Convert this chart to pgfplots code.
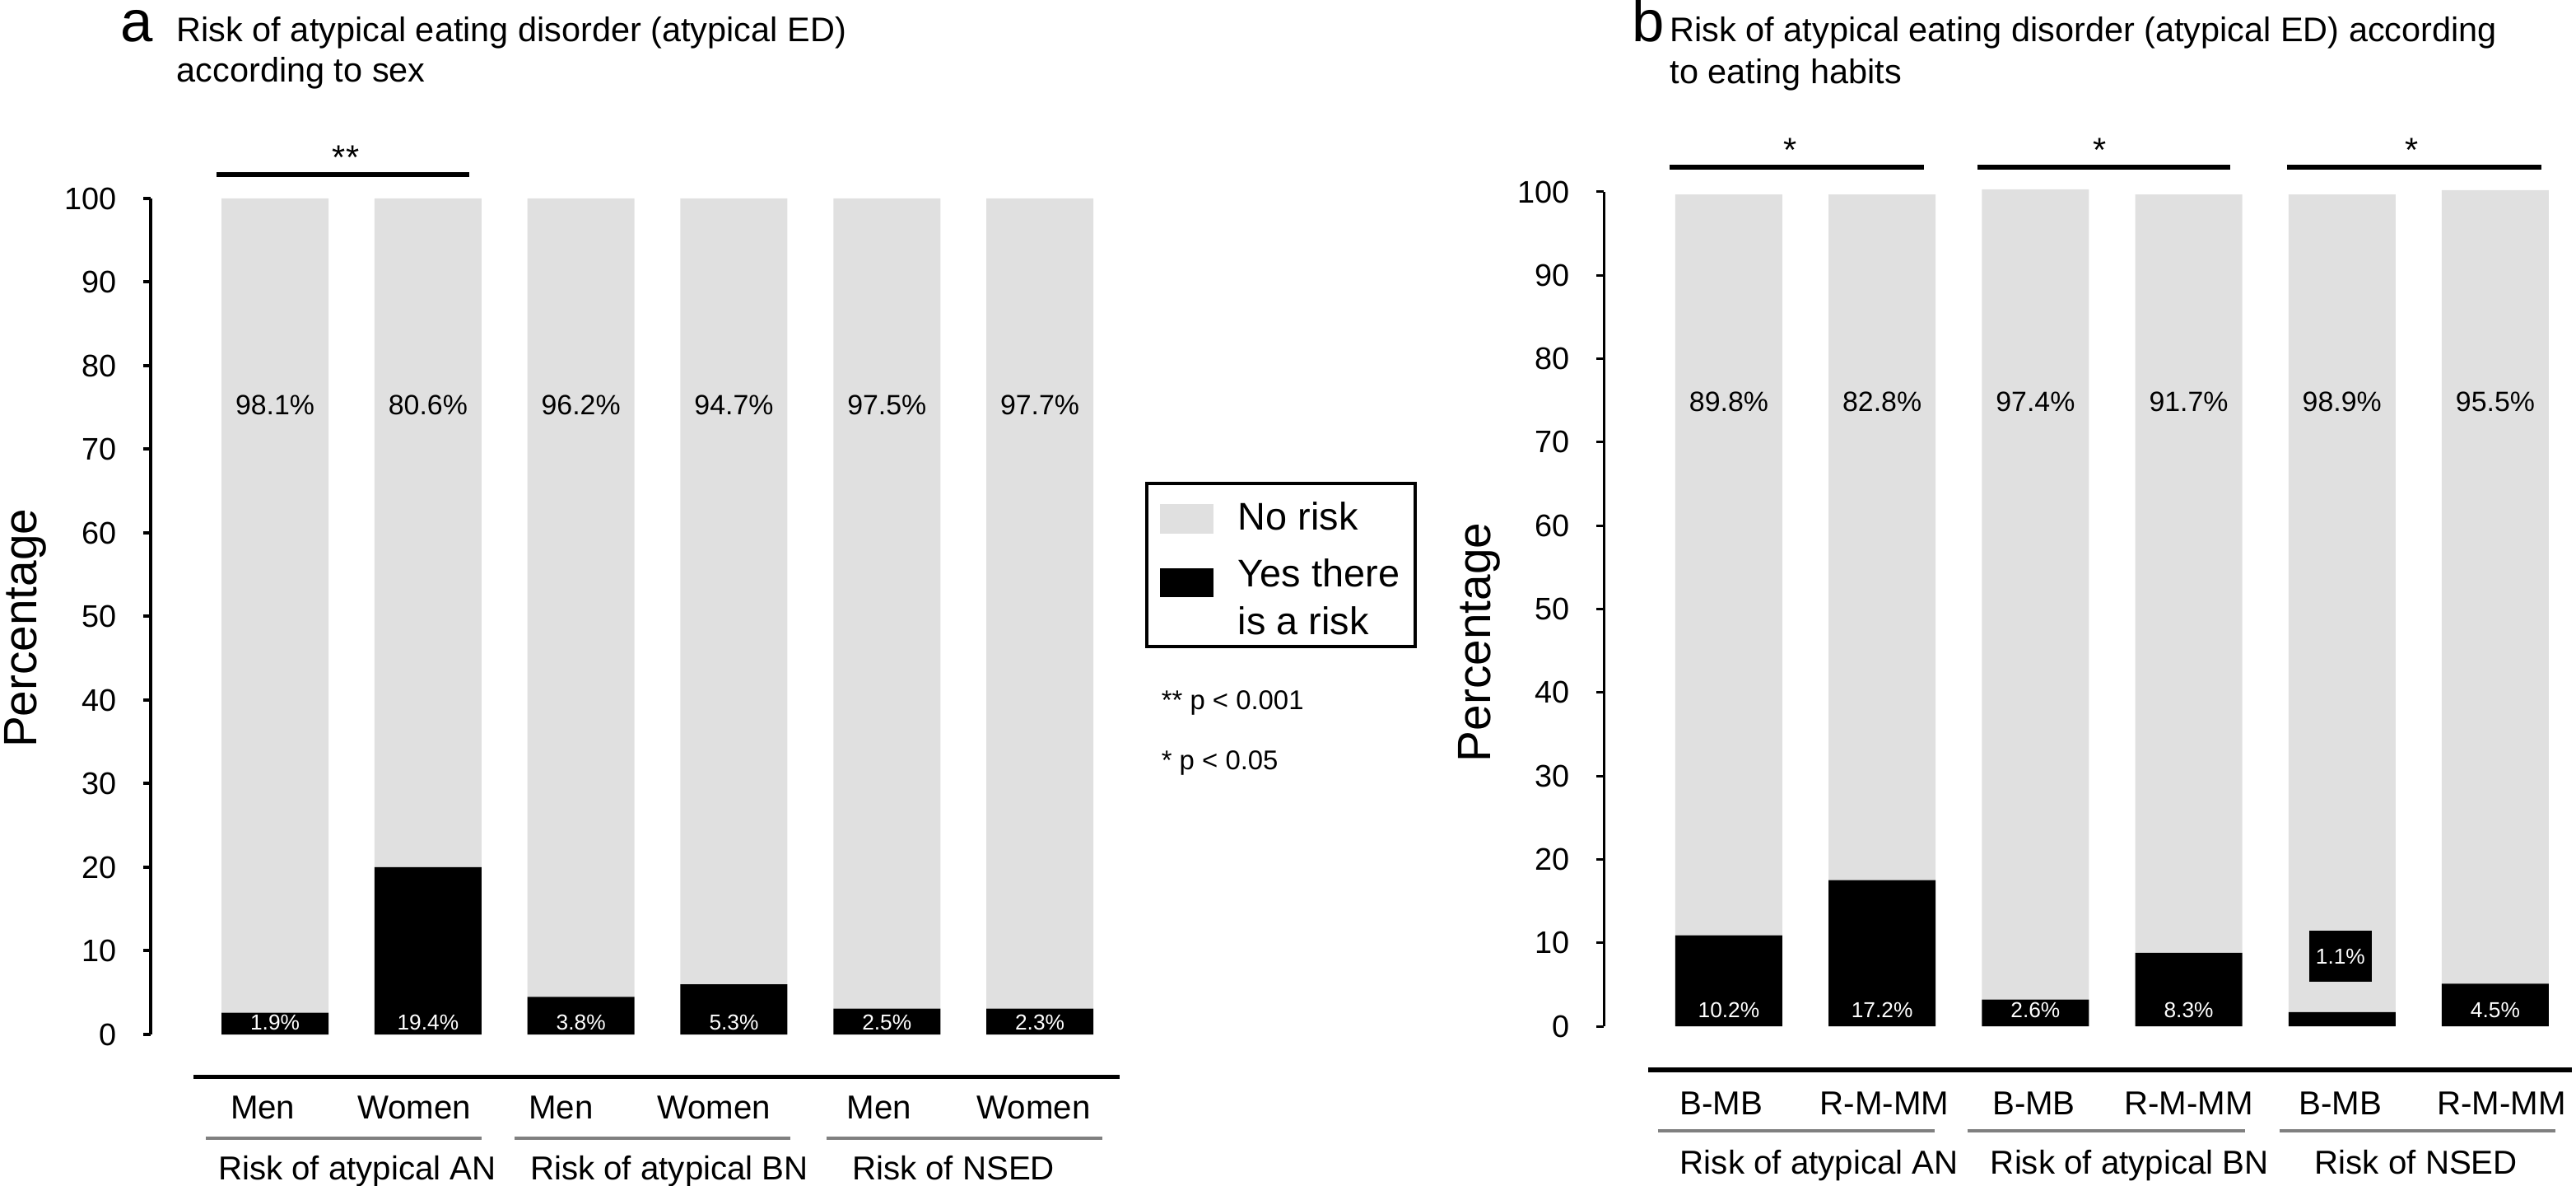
\documentclass[border=0pt]{standalone}
\usepackage{fontspec}
\setmainfont{Liberation Sans}
\usepackage{pgfplots}
\pgfplotsset{compat=1.18}

\definecolor{barGray}{RGB}{224,224,224}
\definecolor{ruleGray}{RGB}{128,128,128}

\tikzset{
  glab/.style={font=\fontsize{8.5}{10}\selectfont, anchor=base, inner sep=0pt},
  wlab/.style={font=\fontsize{6.6}{8}\selectfont, anchor=base, inner sep=0pt, text=white},
  cat/.style={font=\fontsize{10.1}{12}\selectfont, anchor=base, inner sep=0pt},
  ttl/.style={font=\fontsize{10.4}{12.5}\selectfont, anchor=base west, inner sep=0pt},
  panel/.style={font=\fontsize{17.75}{21}\selectfont, anchor=base west, inner sep=0pt},
  star/.style={font=\fontsize{10.4}{12}\selectfont, anchor=base, inner sep=0pt},
  ylab/.style={font=\fontsize{14.25}{17}\selectfont, rotate=90, anchor=center, inner sep=0pt},
  leg/.style={font=\fontsize{11.75}{14}\selectfont, anchor=base west, inner sep=0pt},
  pval/.style={font=\fontsize{8.25}{10}\selectfont, anchor=base west, inner sep=0pt},
}

\pgfplotsset{
  % same frame for the bar axis and for the overlay that carries the text
  panelA/.style={anchor=south west, at={(45.75bp,46bp)}, x=46.45bp, y=2.5375bp,
    xmin=-0.813, xmax=5.6, ymin=0, ymax=100, enlargelimits=false, clip=false},
  panelB/.style={anchor=south west, at={(487bp,48.5bp)}, x=46.55bp, y=2.5325bp,
    xmin=-0.816, xmax=5.6, ymin=0, ymax=100, enlargelimits=false, clip=false},
  riskaxis/.style={
    axis x line=none, axis y line*=left,
    ybar stacked, bar width=32.5bp,
    ytick={0,10,...,100}, xtick=\empty,
    tick align=outside, major tick length=2.25bp,
    yticklabel style={font=\fontsize{9.5}{11}\selectfont, inner sep=0pt, xshift=-8bp},
    /pgf/number format/assume math mode=true,
  },
  overlay/.style={hide axis},
}

\begin{document}
\begin{tikzpicture}
\useasboundingbox (0,0) rectangle (782.25bp,360bp);

% ---------- panel a: by sex ----------
\begin{axis}[panelA, riskaxis,
    y axis line style={line width=1bp},
    ytick style={line width=1bp, black}]
% at risk (black), then no risk (gray) on top
\addplot[fill=black, draw=none] coordinates {
    (0,2.6) (1,20) (2,4.5) (3,6.0) (4,3.1) (5,3.1)};
\addplot[fill=barGray, draw=none] coordinates {
    (0,97.4) (1,80) (2,95.5) (3,94) (4,96.9) (5,96.9)};
\end{axis}

\begin{axis}[panelA, overlay]
\node[glab] at (axis cs:0,74.1) {98.1\%};
\node[glab] at (axis cs:1,74.1) {80.6\%};
\node[glab] at (axis cs:2,74.1) {96.2\%};
\node[glab] at (axis cs:3,74.1) {94.7\%};
\node[glab] at (axis cs:4,74.1) {97.5\%};
\node[glab] at (axis cs:5,74.1) {97.7\%};

\node[wlab] at (axis cs:0,0.5) {1.9\%};
\node[wlab] at (axis cs:1,0.5) {19.4\%};
\node[wlab] at (axis cs:2,0.5) {3.8\%};
\node[wlab] at (axis cs:3,0.5) {5.3\%};
\node[wlab] at (axis cs:4,0.5) {2.5\%};
\node[wlab] at (axis cs:5,0.5) {2.3\%};

% title
\node[panel] at (axis cs:-1.0145,118.8) {a};
\node[ttl] at (axis cs:-0.646,118.8) {Risk of atypical eating disorder (atypical ED)};
\node[ttl] at (axis cs:-0.646,113.9) {according to sex};

% significance
\draw[line width=1.5bp] (axis cs:-0.382,102.86) -- (axis cs:1.270,102.86);
\node[star] at (axis cs:0.463,103.45) {**};

\node[ylab] at (axis cs:-1.631,48.6) {Percentage};

% category labels
\draw[line width=1.25bp] (axis cs:-0.533,-5.12) -- (axis cs:5.52,-5.12);
\node[cat] at (axis cs:-0.08,-10.05) {Men};
\node[cat] at (axis cs:0.91,-10.05) {Women};
\node[cat] at (axis cs:1.87,-10.05) {Men};
\node[cat] at (axis cs:2.87,-10.05) {Women};
\node[cat] at (axis cs:3.95,-10.05) {Men};
\node[cat] at (axis cs:4.96,-10.05) {Women};
\draw[ruleGray, line width=1bp] (axis cs:-0.452,-12.41) -- (axis cs:1.351,-12.41);
\draw[ruleGray, line width=1bp] (axis cs:1.566,-12.41) -- (axis cs:3.369,-12.41);
\draw[ruleGray, line width=1bp] (axis cs:3.606,-12.41) -- (axis cs:5.409,-12.41);
\node[cat] at (axis cs:0.538,-17.34) {Risk of atypical AN};
\node[cat] at (axis cs:2.578,-17.34) {Risk of atypical BN};
\node[cat] at (axis cs:4.435,-17.34) {Risk of NSED};

% legend
\draw[line width=1bp] (axis cs:5.700,65.91) rectangle (axis cs:7.454,46.40);
\fill[barGray] (axis cs:5.786,63.45) rectangle (axis cs:6.136,59.90);
\fill[black] (axis cs:5.786,55.76) rectangle (axis cs:6.136,52.32);
\node[leg] at (axis cs:6.292,60.39) {No risk};
\node[leg] at (axis cs:6.292,53.50) {Yes there};
\node[leg] at (axis cs:6.292,47.88) {is a risk};

\node[pval] at (axis cs:5.791,38.82) {** p < 0.001};
\node[pval] at (axis cs:5.791,31.63) {* p < 0.05};
\end{axis}

% ---------- panel b: by eating habits ----------
\begin{axis}[panelB, riskaxis,
    y axis line style={line width=0.75bp},
    ytick style={line width=0.75bp, black}]
\addplot[fill=black, draw=none] coordinates {
    (0,10.9) (1,17.5) (2,3.2) (3,8.8) (4,1.7) (5,5.1)};
\addplot[fill=barGray, draw=none] coordinates {
    (0,88.8) (1,82.2) (2,97.1) (3,90.9) (4,98.0) (5,95.1)};
\end{axis}

\begin{axis}[panelB, overlay]
\node[glab] at (axis cs:0,73.7) {89.8\%};
\node[glab] at (axis cs:1,73.7) {82.8\%};
\node[glab] at (axis cs:2,73.7) {97.4\%};
\node[glab] at (axis cs:3,73.7) {91.7\%};
\node[glab] at (axis cs:4,73.7) {98.9\%};
\node[glab] at (axis cs:5,73.7) {95.5\%};

\node[wlab] at (axis cs:0,1.0) {10.2\%};
\node[wlab] at (axis cs:1,1.0) {17.2\%};
\node[wlab] at (axis cs:2,1.0) {2.6\%};
\node[wlab] at (axis cs:3,1.0) {8.3\%};
\node[wlab, fill=black, anchor=center, minimum width=19bp, minimum height=15.5bp] at (axis cs:3.99,8.39) {1.1\%};
\node[wlab] at (axis cs:5,1.0) {4.5\%};

\node[panel] at (axis cs:-0.634,118.0) {b};
\node[ttl] at (axis cs:-0.387,118.0) {Risk of atypical eating disorder (atypical ED) according};
\node[ttl] at (axis cs:-0.387,113.0) {to eating habits};

\draw[line width=1.5bp] (axis cs:-0.387,102.96) -- (axis cs:1.273,102.96);
\draw[line width=1.5bp] (axis cs:1.622,102.96) -- (axis cs:3.271,102.96);
\draw[line width=1.5bp] (axis cs:3.641,102.96) -- (axis cs:5.300,102.96);
\node[star] at (axis cs:0.403,103.65) {*};
\node[star] at (axis cs:2.422,103.65) {*};
\node[star] at (axis cs:4.457,103.65) {*};

\node[ylab] at (axis cs:-1.627,46.0) {Percentage};

\draw[line width=1.5bp] (axis cs:-0.526,-5.23) -- (axis cs:5.50,-5.23);
\node[cat] at (axis cs:-0.05,-10.66) {B-MB};
\node[cat] at (axis cs:1.016,-10.66) {R-M-MM};
\node[cat] at (axis cs:1.99,-10.66) {B-MB};
\node[cat] at (axis cs:3.0,-10.66) {R-M-MM};
\node[cat] at (axis cs:3.99,-10.66) {B-MB};
\node[cat] at (axis cs:5.04,-10.66) {R-M-MM};
\draw[ruleGray, line width=1bp] (axis cs:-0.462,-12.54) -- (axis cs:1.343,-12.54);
\draw[ruleGray, line width=1bp] (axis cs:1.557,-12.54) -- (axis cs:3.367,-12.54);
\draw[ruleGray, line width=1bp] (axis cs:3.593,-12.54) -- (axis cs:5.392,-12.54);
\node[cat] at (axis cs:0.59,-17.67) {Risk of atypical AN};
\node[cat] at (axis cs:2.615,-17.67) {Risk of atypical BN};
\node[cat] at (axis cs:4.484,-17.67) {Risk of NSED};
\end{axis}
\end{tikzpicture}
\end{document}
